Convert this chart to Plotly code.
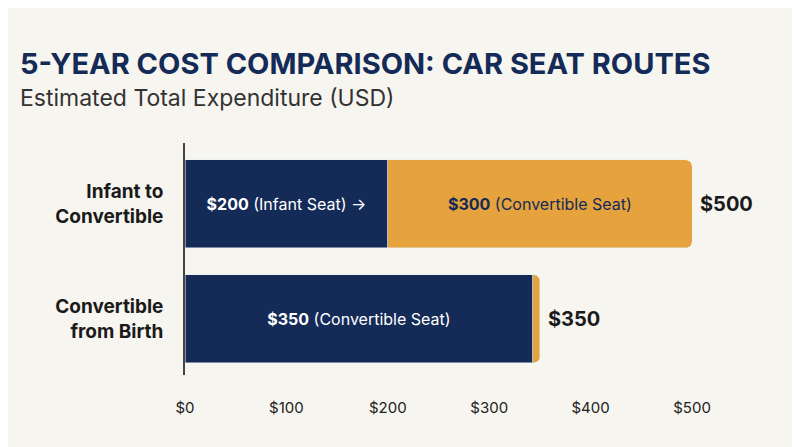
import plotly.graph_objects as go

routes = ["Infant to<br>Convertible", "Convertible<br>from Birth"]
navy_vals = [200, 343]
orange_vals = [300, 7]
totals = [500, 350]
navy_text = ["<b>$200</b> (Infant Seat) →", "<b>$350</b> (Convertible Seat)"]
orange_text = ["<b>$300</b> (Convertible Seat)", ""]
tick_vals = [0, 100, 200, 300, 400, 500]
tick_text = ["$0", "$100", "$200", "$300", "$400", "$500"]

NAVY = "#142a57"
ORANGE = "#e6a23c"
BG = "#f7f5ef"
FONT = "Inter"

fig = go.Figure()
fig.add_trace(go.Bar(
    y=routes, x=navy_vals, orientation="h", marker_color=NAVY,
    text=navy_text, textposition="inside", insidetextanchor="middle",
    textfont=dict(color="white", size=16, family=FONT), width=0.765,
    hoverinfo="skip",
))
fig.add_trace(go.Bar(
    y=routes, x=orange_vals, orientation="h", marker_color=ORANGE,
    text=orange_text, textposition="inside", insidetextanchor="middle",
    textfont=dict(color=NAVY, size=16, family=FONT), width=0.765,
    hoverinfo="skip",
))

for r, t in zip(routes, totals):
    fig.add_annotation(x=t, y=r, text=f"<b>${t}</b>", showarrow=False,
                       xanchor="left", xshift=6,
                       font=dict(size=20, color="#1a1a1a", family=FONT))

fig.add_annotation(xref="paper", yref="paper", x=-0.329, y=1.257, xanchor="left", yanchor="bottom",
                   text="<b>5-YEAR COST COMPARISON: CAR SEAT ROUTES</b>", showarrow=False,
                   font=dict(size=29, color=NAVY, family=FONT))
fig.add_annotation(xref="paper", yref="paper", x=-0.329, y=1.125, xanchor="left", yanchor="bottom",
                   text="Estimated Total Expenditure (USD)", showarrow=False,
                   font=dict(size=23, color="#333333", family=FONT))

fig.update_layout(
    width=800, height=447, barmode="stack", barcornerradius=6,
    paper_bgcolor=BG, plot_bgcolor=BG, showlegend=False,
    margin=dict(l=177, r=116, t=135, b=80),
    font=dict(family=FONT, color="#1a1a1a"),
    xaxis=dict(range=[0, 500], tickvals=tick_vals, ticktext=tick_text,
               showgrid=False, zeroline=False, ticks="outside", ticklen=19,
               tickcolor=BG, tickfont=dict(size=15, color="#222"), automargin=False),
    yaxis=dict(range=[1.49, -0.53], showgrid=False, showline=True, linecolor="#444",
               linewidth=1.5, ticks="outside", ticklen=16, tickcolor=BG, automargin=False,
               tickfont=dict(size=19, color="#1a1a1a", family=FONT, weight="bold")),
)

fig.write_html("out.html")
